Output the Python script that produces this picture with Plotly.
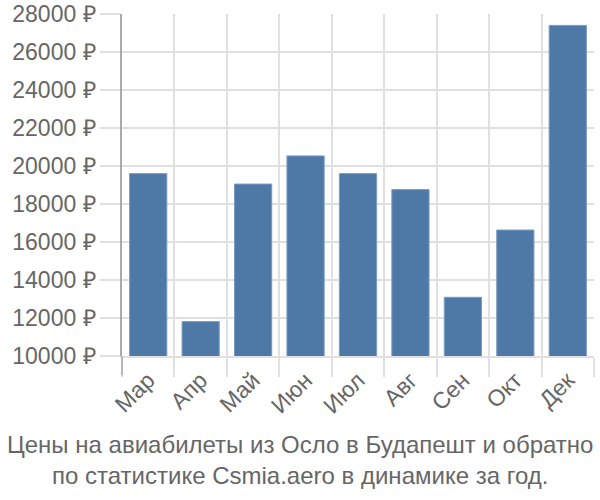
import plotly.graph_objects as go

months = ["Мар", "Апр", "Май", "Июн", "Июл", "Авг", "Сен", "Окт", "Дек"]
prices = [19600, 11810, 19050, 20530, 19600, 18760, 13090, 16630, 27400]
y_ticks = [10000, 12000, 14000, 16000, 18000, 20000, 22000, 24000, 26000, 28000]
title_lines = ["Цены на авиабилеты из Осло в Будапешт и обратно",
               "по статистике Csmia.aero в динамике за год."]

FONT = "Liberation Sans, Arial, sans-serif"
GRID = "#e0e0e0"
TXT = "#666666"
FS = 23

fig = go.Figure(go.Bar(
    x=months, y=prices,
    marker=dict(color="#4e79a7", line=dict(color="#7a9cc4", width=1)),
    width=0.71,
))

fig.update_layout(
    width=600, height=500,
    margin=dict(l=122, r=6, t=14, b=144, autoexpand=False),
    plot_bgcolor="white", paper_bgcolor="white",
    showlegend=False,
    font=dict(family=FONT, size=FS, color=TXT),
)
fig.update_xaxes(
    type="category",
    automargin=False,
    tickson="boundaries",
    showgrid=True, gridcolor=GRID, gridwidth=1.5,
    ticks="outside", ticklen=19, tickcolor=GRID, tickwidth=1.5,
    tickangle=-45,
    tickfont=dict(family=FONT, size=FS, color=TXT),
    showline=True, linecolor=GRID, linewidth=1.5,
    zeroline=False,
)
fig.update_yaxes(
    range=[10000, 28000],
    automargin=False,
    tickvals=y_ticks,
    ticktext=[f"{v} ₽" for v in y_ticks],
    showgrid=True, gridcolor=GRID, gridwidth=1.5,
    ticks="outside", ticklen=20, tickcolor=GRID, tickwidth=1.5,
    tickfont=dict(family=FONT, size=FS, color=TXT),
    showline=True, linecolor="#aaaaaa", linewidth=1.5,
    zeroline=False,
)
fig.add_shape(type="line", xref="paper", yref="paper",
              x0=0, x1=0, y0=0, y1=-0.056,
              line=dict(color="#aaaaaa", width=1.5))
fig.add_annotation(
    text="<br>".join(title_lines),
    xref="paper", yref="paper", x=0.5 - 58/472, y=-0.214,
    xanchor="center", yanchor="top", showarrow=False,
    font=dict(family=FONT, size=24, color=TXT),
    align="center",
)

fig.write_html("out.html")
